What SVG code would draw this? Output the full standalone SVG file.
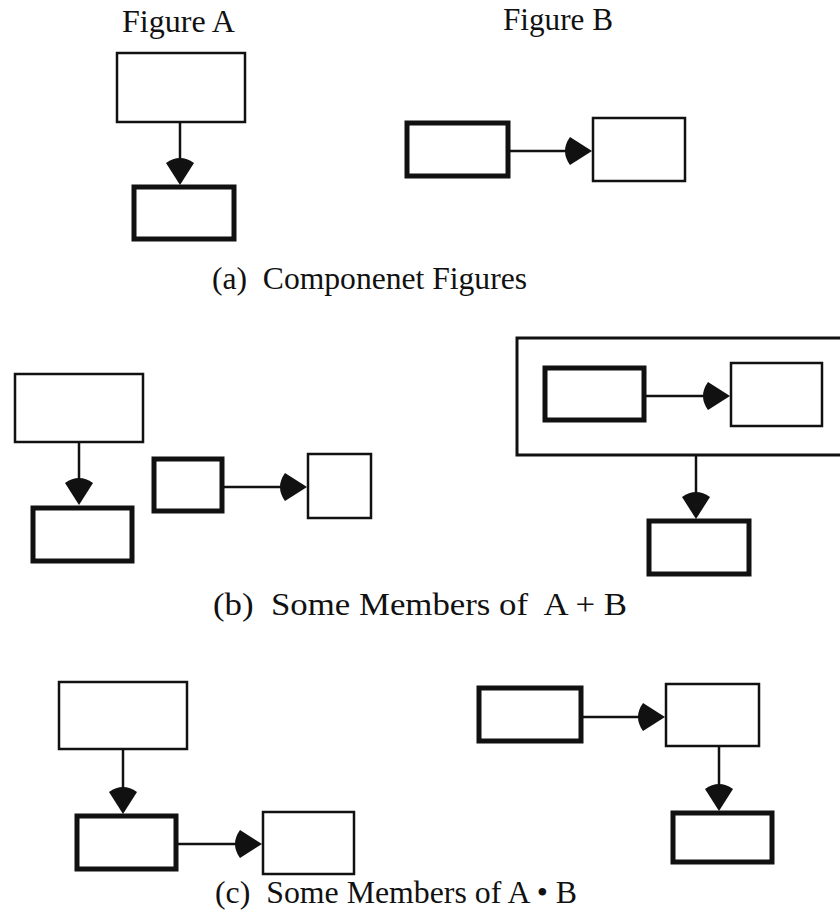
<svg xmlns="http://www.w3.org/2000/svg" xmlns:xlink="http://www.w3.org/1999/xlink" width="840" height="919" viewBox="0 0 840 919">
<style>
  .thin { fill: none; stroke: #111; stroke-width: 2.5; }
  .thick { fill: none; stroke: #111; stroke-width: 5; }
  .edge { fill: none; stroke: #111; stroke-width: 2.5; }
  .head { fill: #111; }
  .lbl { font-family: "Liberation Serif", "Times New Roman", serif; font-size: 31px; fill: #111; }
</style>
<defs>
  <path id="ah" d="M0,0 L-22,-14 Q-27,-7 -27,0 Q-27,7 -22,14 Z"/>
</defs>
<rect width="840" height="919" fill="#fff"/>

<g id="labels">
  <text class="lbl" x="122" y="32" textLength="113" lengthAdjust="spacingAndGlyphs">Figure A</text>
  <text class="lbl" x="503" y="30" textLength="110" lengthAdjust="spacingAndGlyphs">Figure B</text>
  <text class="lbl" x="212" y="289" textLength="315" lengthAdjust="spacingAndGlyphs" xml:space="preserve">(a)  Componenet Figures</text>
  <text class="lbl" x="213" y="615" textLength="414" lengthAdjust="spacingAndGlyphs" xml:space="preserve">(b)  Some Members of  A + B</text>
  <text class="lbl" x="215" y="903" textLength="362" lengthAdjust="spacingAndGlyphs" xml:space="preserve">(c)  Some Members of A • B</text>
</g>

<g id="connectors">
  <line class="edge" x1="180" y1="123" x2="180" y2="170"/>
  <use class="head" xlink:href="#ah" href="#ah" transform="translate(180,185) rotate(90)"/>
  <line class="edge" x1="510" y1="151" x2="575" y2="151"/>
  <use class="head" xlink:href="#ah" href="#ah" transform="translate(592,151)"/>
  <line class="edge" x1="79" y1="443" x2="79" y2="490"/>
  <use class="head" xlink:href="#ah" href="#ah" transform="translate(79,505) rotate(90)"/>
  <line class="edge" x1="224" y1="487" x2="290" y2="487"/>
  <use class="head" xlink:href="#ah" href="#ah" transform="translate(307,487)"/>
  <line class="edge" x1="646" y1="396" x2="712" y2="396"/>
  <use class="head" xlink:href="#ah" href="#ah" transform="translate(730,396)"/>
  <line class="edge" x1="696" y1="456" x2="696" y2="503"/>
  <use class="head" xlink:href="#ah" href="#ah" transform="translate(696,519) rotate(90)"/>
  <line class="edge" x1="123" y1="750" x2="123" y2="798"/>
  <use class="head" xlink:href="#ah" href="#ah" transform="translate(123,814) rotate(90)"/>
  <line class="edge" x1="178" y1="844" x2="245" y2="844"/>
  <use class="head" xlink:href="#ah" href="#ah" transform="translate(262,844)"/>
  <line class="edge" x1="583" y1="717" x2="648" y2="717"/>
  <use class="head" xlink:href="#ah" href="#ah" transform="translate(665,717)"/>
  <line class="edge" x1="719" y1="747" x2="719" y2="795"/>
  <use class="head" xlink:href="#ah" href="#ah" transform="translate(719,811) rotate(90)"/>
</g>

<g id="figA-top"><rect class="thin" x="117" y="53" width="128" height="69"/></g>
<g id="figA-bottom"><rect class="thick" x="134" y="187" width="100" height="52"/></g>
<g id="figB-left"><rect class="thick" x="407" y="123" width="101" height="53"/></g>
<g id="figB-right"><rect class="thin" x="593" y="118" width="92" height="63"/></g>

<g id="b1-top"><rect class="thin" x="15" y="374" width="128" height="68"/></g>
<g id="b1-bottom"><rect class="thick" x="33" y="508" width="99" height="53"/></g>
<g id="b2-left"><rect class="thick" x="154" y="459" width="68" height="52"/></g>
<g id="b2-right"><rect class="thin" x="308" y="454" width="63" height="64"/></g>
<g id="b3-container"><rect class="thin" x="517" y="338" width="330" height="117" style="stroke-width:3"/></g>
<g id="b3-inner-left"><rect class="thick" x="545" y="368" width="99" height="52"/></g>
<g id="b3-inner-right"><rect class="thin" x="731" y="363" width="91" height="63"/></g>
<g id="b3-bottom"><rect class="thick" x="649" y="521" width="100" height="53"/></g>

<g id="c1-top"><rect class="thin" x="59" y="682" width="128" height="67"/></g>
<g id="c1-mid"><rect class="thick" x="77" y="816" width="99" height="53"/></g>
<g id="c1-right"><rect class="thin" x="263" y="812" width="91" height="62"/></g>
<g id="c2-left"><rect class="thick" x="479" y="688" width="102" height="53"/></g>
<g id="c2-right"><rect class="thin" x="666" y="684" width="93" height="62"/></g>
<g id="c2-bottom"><rect class="thick" x="673" y="813" width="99" height="49"/></g>
</svg>
